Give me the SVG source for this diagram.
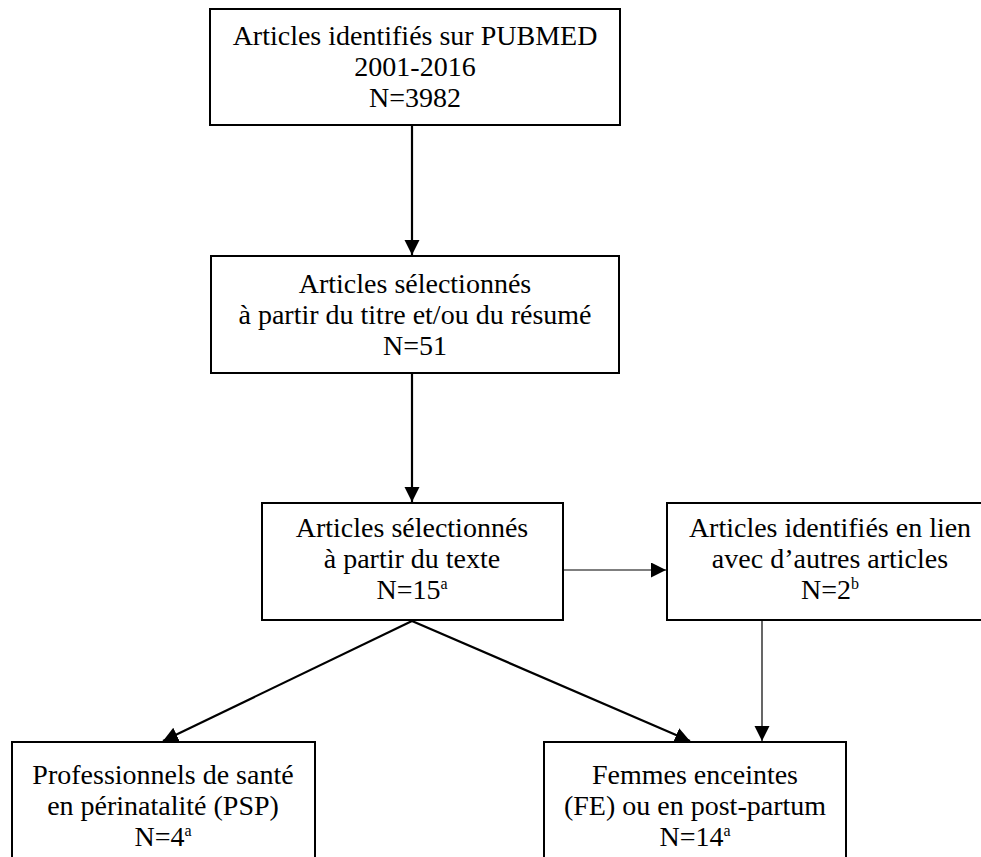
<svg xmlns="http://www.w3.org/2000/svg" width="981" height="857" viewBox="0 0 981 857">
<style>
  .box { fill: #ffffff; stroke: #000000; stroke-width: 2; }
  .thick { stroke: #000000; stroke-width: 2.2; fill: none; }
  .thin { stroke: #000000; stroke-width: 1.2; fill: none; }
</style>
<defs>
  <marker id="ah" markerUnits="userSpaceOnUse" markerWidth="16" markerHeight="16" refX="15" refY="7.5" orient="auto">
    <path d="M0,0 L15,7.5 L0,15 z" fill="#000000"/>
  </marker>
</defs>
<rect width="981" height="857" fill="#ffffff"/>

<g font-family="'Liberation Serif', 'Times New Roman', serif" font-size="28" fill="#000000" text-anchor="middle">
<g id="n1">
  <rect class="box" x="210" y="9" width="410" height="116"/>
  <text x="415" y="45">Articles identifiés sur PUBMED</text>
  <text x="415" y="76">2001-2016</text>
  <text x="415" y="107">N=3982</text>
</g>

<g id="n2">
  <rect class="box" x="211" y="256" width="408" height="117"/>
  <text x="415" y="293">Articles sélectionnés</text>
  <text x="415" y="324">à partir du titre et/ou du résumé</text>
  <text x="415" y="355">N=51</text>
</g>

<g id="n3">
  <rect class="box" x="262" y="503" width="301" height="117"/>
  <text x="412" y="537">Articles sélectionnés</text>
  <text x="412" y="568">à partir du texte</text>
  <text x="412" y="599">N=15<tspan font-size="16" dy="-10">a</tspan></text>
</g>

<g id="n4">
  <rect class="box" x="667" y="503" width="326" height="117"/>
  <text x="830" y="537">Articles identifiés en lien</text>
  <text x="830" y="568">avec d’autres articles</text>
  <text x="830" y="599">N=2<tspan font-size="16" dy="-10">b</tspan></text>
</g>

<g id="n5">
  <rect class="box" x="12" y="742" width="303" height="130"/>
  <text x="163" y="784">Professionnels de santé</text>
  <text x="163" y="815">en périnatalité (PSP)</text>
  <text x="163" y="846">N=4<tspan font-size="16" dy="-10">a</tspan></text>
</g>

<g id="n6">
  <rect class="box" x="544" y="742" width="302" height="130"/>
  <text x="695" y="784">Femmes enceintes</text>
  <text x="695" y="815">(FE) ou en post-partum</text>
  <text x="695" y="846">N=14<tspan font-size="16" dy="-10">a</tspan></text>
</g>
</g>

<g id="connectors">
  <path class="thick" d="M412,126 L412,255" marker-end="url(#ah)"/>
  <path class="thick" d="M412,374 L412,502" marker-end="url(#ah)"/>
  <path class="thin" d="M563,570 L666,570" marker-end="url(#ah)"/>
  <path class="thin" d="M762,620 L762,741" marker-end="url(#ah)"/>
  <path class="thick" d="M412,621 L163,741" marker-end="url(#ah)"/>
  <path class="thick" d="M412,621 L690,741" marker-end="url(#ah)"/>
</g>
</svg>
